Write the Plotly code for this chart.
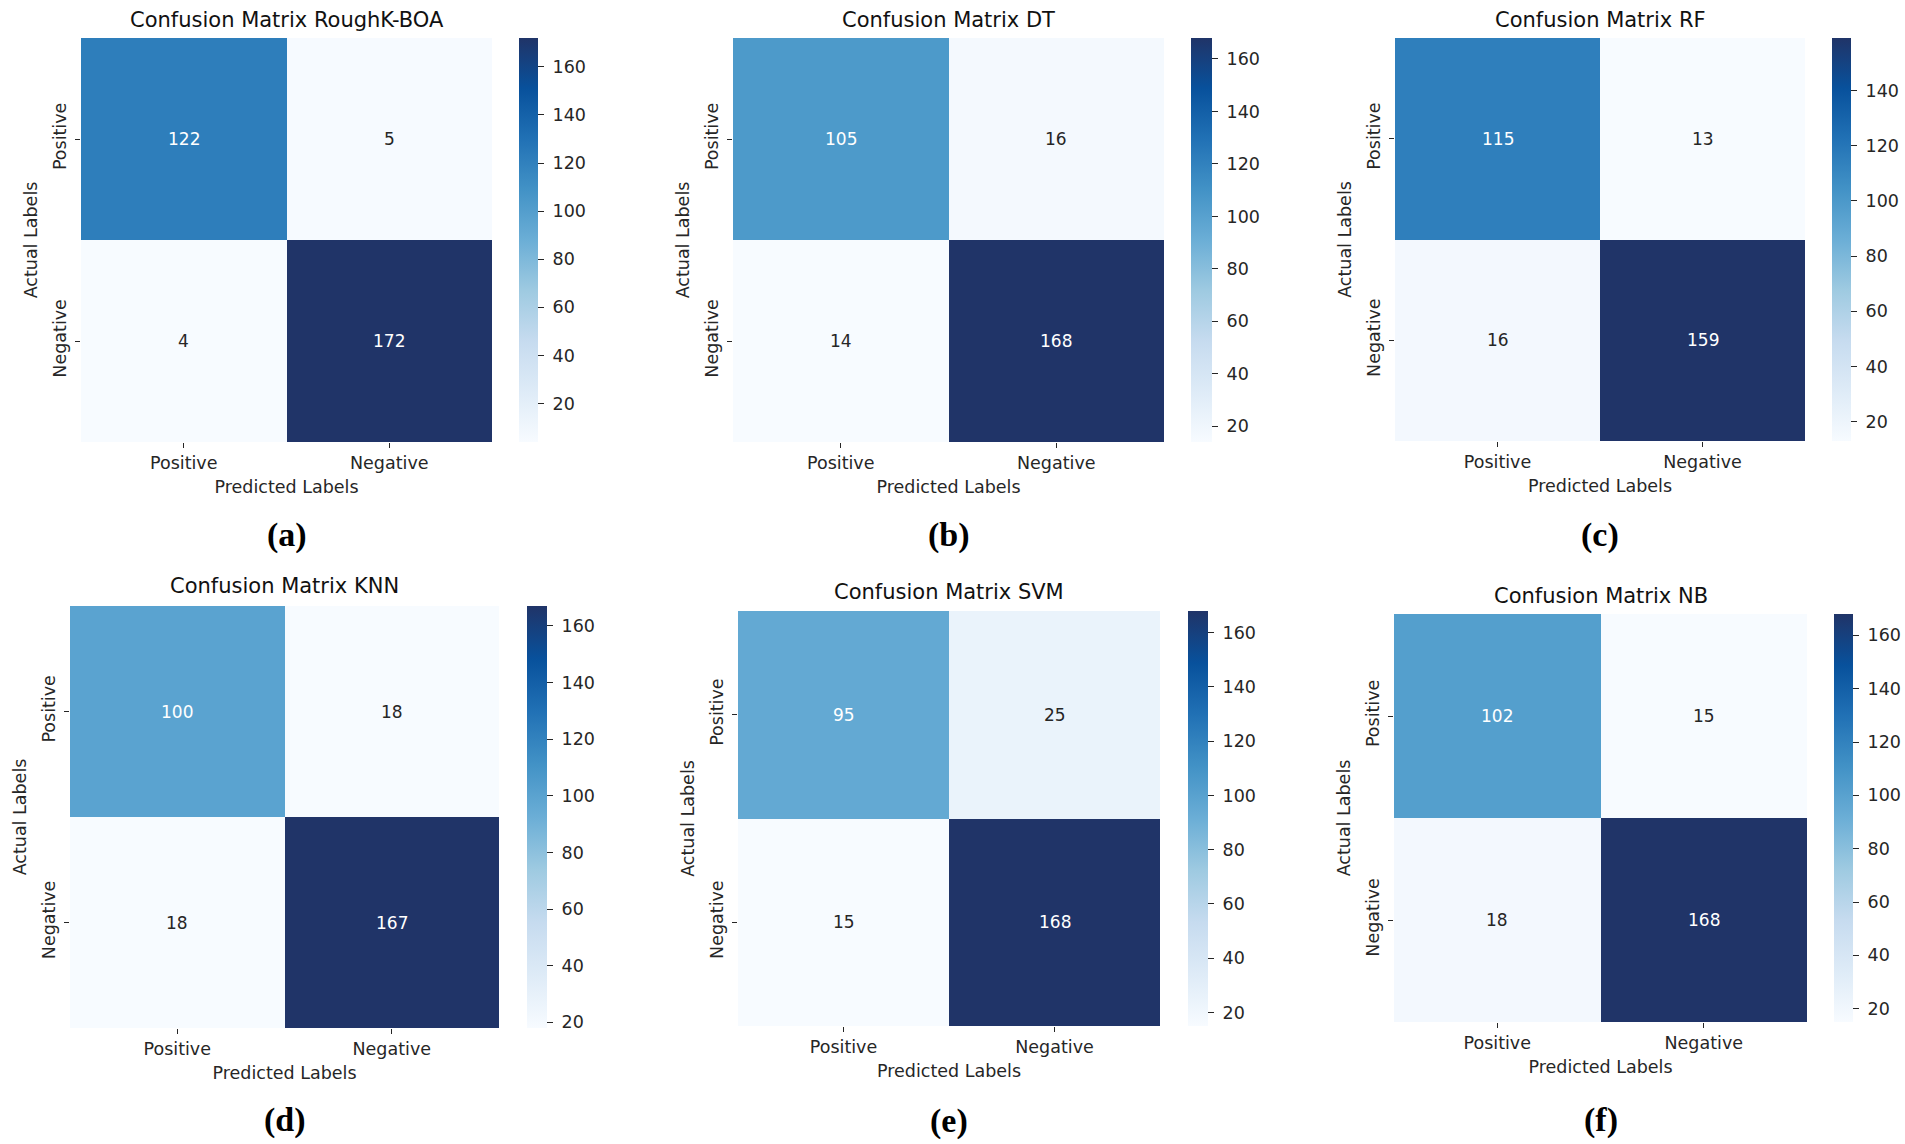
import plotly.graph_objects as go

# ---------------- data ----------------
labels = ["Positive", "Negative"]
models = ["RoughK-BOA", "DT", "RF", "KNN", "SVM", "NB"]
panel_tags = ["(a)", "(b)", "(c)", "(d)", "(e)", "(f)"]

cm_roughk_boa = [[122, 5], [4, 172]]
cm_dt = [[105, 16], [14, 168]]
cm_rf = [[115, 13], [16, 159]]
cm_knn = [[100, 18], [18, 167]]
cm_svm = [[95, 25], [15, 168]]
cm_nb = [[102, 15], [18, 168]]
matrices = [cm_roughk_boa, cm_dt, cm_rf, cm_knn, cm_svm, cm_nb]

# ---------------- layout geometry (pixels in the window) ----------------
W, H = 1905, 1144
# heatmap left, right, top, bottom, colorbar left, colorbar right
boxes = [
    (81, 492, 38, 442, 519, 538),
    (733, 1164, 38, 442, 1191, 1212),
    (1395, 1805, 38, 441, 1832, 1851),
    (70, 499, 606, 1028, 527, 547),
    (738, 1160, 611, 1026, 1188, 1208),
    (1394, 1807, 614, 1022, 1834, 1853),
]
title_y = [20, 20, 20, 586, 592, 596]
tag_y = [535, 535, 535, 1120, 1121, 1120]


def px(v):
    return v / W


def py(v):
    return 1 - v / H


blues = [
    [0.000, "#f7fbff"],
    [0.125, "#deebf7"],
    [0.250, "#c6dbef"],
    [0.375, "#9ecae1"],
    [0.500, "#6baed6"],
    [0.625, "#4292c6"],
    [0.750, "#2171b5"],
    [0.875, "#08519c"],
    [1.000, "#203468"],
]

FONT = "DejaVu Sans"
DARK = "#262626"

fig = go.Figure()
annotations = []
layout = dict(
    width=W, height=H,
    margin=dict(l=0, r=0, t=0, b=0),
    paper_bgcolor="white", plot_bgcolor="white",
    font=dict(family=FONT, size=17.5, color=DARK),
    showlegend=False,
)

for i, (m, z, tag) in enumerate(zip(models, matrices, panel_tags)):
    n = i + 1
    l, r, t, b, cl, cr = boxes[i]
    zmin = min(min(row) for row in z)
    zmax = max(max(row) for row in z)
    xa = "x" if n == 1 else f"x{n}"
    ya = "y" if n == 1 else f"y{n}"
    fig.add_trace(go.Heatmap(
        z=z, x=labels, y=labels,
        xaxis=xa, yaxis=ya,
        colorscale=blues, zmin=zmin, zmax=zmax,
        hoverinfo="skip",
        colorbar=dict(
            x=px(cl), xanchor="left", xpad=0,
            y=py(t), yanchor="top", ypad=0,
            len=(b - t) / H, lenmode="fraction",
            thickness=cr - cl, thicknessmode="pixels",
            outlinewidth=0,
            tick0=0, dtick=20,
            ticks="outside", ticklen=6, tickwidth=1, tickcolor=DARK,
            tickprefix=" ",
            tickfont=dict(family=FONT, size=17.5, color=DARK),
        ),
    ))
    layout[f"xaxis{'' if n == 1 else n}"] = dict(
        domain=[px(l), px(r)], anchor=ya,
        showgrid=False, zeroline=False, showline=False,
        ticks="outside", ticklen=5, tickwidth=1.2, tickcolor=DARK,
        tickfont=dict(family=FONT, size=17.5, color=DARK),
        title=dict(text="Predicted Labels", standoff=8,
                   font=dict(family=FONT, size=17.5, color=DARK)),
        fixedrange=True,
    )
    layout[f"yaxis{'' if n == 1 else n}"] = dict(
        domain=[py(b), py(t)], anchor=xa,
        autorange="reversed",
        showgrid=False, zeroline=False, showline=False,
        ticks="outside", ticklen=5, tickwidth=1.2, tickcolor=DARK,
        tickangle=-90, ticklabelstandoff=2,
        tickfont=dict(family=FONT, size=17.5, color=DARK),
        title=dict(text="Actual Labels", standoff=7,
                   font=dict(family=FONT, size=17.5, color=DARK)),
        fixedrange=True,
    )
    # cell values
    rng = zmax - zmin
    for ri, row_lab in enumerate(labels):
        for ci, col_lab in enumerate(labels):
            v = z[ri][ci]
            frac = (v - zmin) / rng
            annotations.append(dict(
                x=col_lab, y=row_lab, xref=xa, yref=ya,
                text=str(v), showarrow=False,
                font=dict(family=FONT, size=17,
                          color="#ffffff" if frac > 0.4 else DARK),
            ))
    # title
    annotations.append(dict(
        x=px((l + r) / 2), y=py(title_y[i]), xref="paper", yref="paper",
        text=f"Confusion Matrix {m}", showarrow=False,
        xanchor="center", yanchor="middle",
        font=dict(family=FONT, size=21, color="#111111"),
    ))
    # panel tag
    annotations.append(dict(
        x=px((l + r) / 2), y=py(tag_y[i]), xref="paper", yref="paper",
        text=f"<b>{tag}</b>", showarrow=False,
        xanchor="center", yanchor="middle",
        font=dict(family="Liberation Serif", size=34, color="#000000"),
    ))

layout["annotations"] = annotations
fig.update_layout(**layout)
fig.write_html(
    "out.html",
    config={"displayModeBar": False},
    post_script="document.body.style.margin='0';"
                "document.body.style.overflow='hidden';",
)
